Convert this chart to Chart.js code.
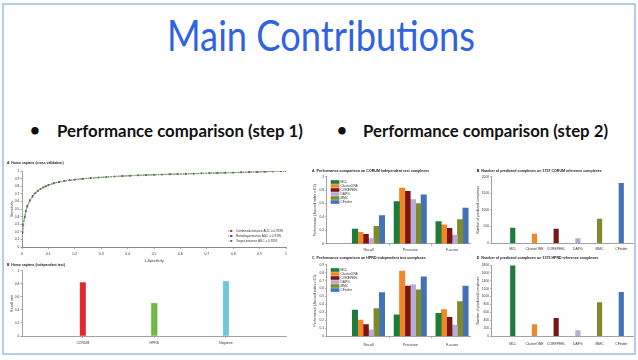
<!DOCTYPE html>
<html><head><meta charset="utf-8">
<script src="https://cdn.jsdelivr.net/npm/chart.js@4.4.1/dist/chart.umd.min.js"></script>
<style>
html,body{margin:0;padding:0;background:#fff;width:638px;height:360px;overflow:hidden;}
canvas{position:absolute;}
svg{position:absolute;left:0;top:0;}
</style></head><body>
<svg width="638" height="360">
  <rect x="3" y="4" width="632" height="350" fill="none" stroke="#b4cde8" stroke-width="2"/>
  <text x="321" y="51" text-anchor="middle" font-family="Lato" font-size="42" fill="#2f63e0" textLength="308" lengthAdjust="spacingAndGlyphs">Main Contributions</text>
  <text x="35" y="136" text-anchor="middle" font-family="Lato" font-weight="bold" font-size="17" fill="#111">•</text>
  <text x="57" y="136.5" font-family="Lato" font-weight="bold" font-size="17" fill="#111" textLength="246" lengthAdjust="spacingAndGlyphs">Performance comparison (step 1)</text>
  <text x="342" y="136" text-anchor="middle" font-family="Lato" font-weight="bold" font-size="17" fill="#111">•</text>
  <text x="363" y="136.5" font-family="Lato" font-weight="bold" font-size="17" fill="#111" textLength="245" lengthAdjust="spacingAndGlyphs">Performance comparison (step 2)</text>
</svg>
<canvas id="roc" width="288" height="105" style="left:4px;top:158px"></canvas>
<canvas id="indep" width="288" height="94" style="left:4px;top:258px"></canvas>
<canvas id="pa" width="172" height="90" style="left:300px;top:164px"></canvas>
<canvas id="pb" width="171" height="90" style="left:464px;top:164px"></canvas>
<canvas id="pc" width="172" height="100" style="left:300px;top:252px"></canvas>
<canvas id="pd" width="171" height="100" style="left:464px;top:252px"></canvas>
<script>
// ---------- data ----------
const rocFpr = [0,0.002,0.005,0.01,0.015,0.02,0.03,0.04,0.05,0.06,0.07,0.08,0.09,0.1,0.12,0.14,0.16,0.18,0.2,0.23,0.26,0.29,0.32,0.35,0.38,0.41,0.44,0.47,0.5,0.53,0.56,0.59,0.62,0.65,0.68,0.71,0.74,0.77,0.8,0.83,0.86,0.89,0.92,0.95,0.98,1.0];
const rocTprCombined = [0,0.2,0.3,0.4,0.48,0.54,0.62,0.67,0.71,0.74,0.765,0.785,0.8,0.815,0.84,0.856,0.868,0.879,0.888,0.898,0.907,0.915,0.922,0.928,0.934,0.939,0.943,0.947,0.951,0.954,0.957,0.96,0.963,0.966,0.969,0.972,0.975,0.977,0.98,0.982,0.985,0.988,0.991,0.994,0.997,1.0];
const rocTprHomolog = [0,0.19,0.3,0.39,0.47,0.54,0.61,0.67,0.705,0.74,0.763,0.784,0.8,0.814,0.838,0.855,0.867,0.878,0.887,0.897,0.906,0.914,0.921,0.928,0.933,0.938,0.943,0.947,0.95,0.954,0.957,0.96,0.963,0.966,0.969,0.971,0.974,0.977,0.979,0.982,0.985,0.988,0.991,0.994,0.997,1.0];
const rocTprTarget = [0,0.19,0.29,0.39,0.47,0.53,0.61,0.66,0.705,0.735,0.762,0.783,0.798,0.813,0.837,0.854,0.866,0.877,0.886,0.896,0.905,0.913,0.92,0.927,0.933,0.938,0.942,0.946,0.95,0.953,0.956,0.959,0.962,0.965,0.968,0.971,0.974,0.976,0.979,0.982,0.985,0.988,0.991,0.994,0.997,1.0];
const rocLabels = ['Combined-instance AUC = 0.9198','Homolog-instance AUC = 0.9195','Target-instance AUC = 0.9191'];
const rocTicks = [0,0.1,0.2,0.3,0.4,0.5,0.6,0.7,0.8,0.9,1];

const indepCategories = ['CORUM','HPRD','Negative'];
const indepRecall = [0.82,0.50,0.84];

const methods = ['MCL','ClusterONE','COREPEEL','DAPG','MMC','CFinder'];
const metrics = ['Recall','Precision','F-score'];
const corumMCL = [0.22,0.63,0.33];
const corumClusterONE = [0.17,0.83,0.28];
const corumCOREPEEL = [0.14,0.78,0.23];
const corumDAPG = [0.075,0.66,0.13];
const corumMMC = [0.26,0.60,0.36];
const corumCFinder = [0.42,0.73,0.53];
const hprdMCL = [0.33,0.27,0.29];
const hprdClusterONE = [0.205,0.82,0.335];
const hprdCOREPEEL = [0.146,0.632,0.239];
const hprdDAPG = [0.08,0.648,0.142];
const hprdMMC = [0.347,0.585,0.435];
const hprdCFinder = [0.548,0.749,0.632];
const corumCounts = [450,270,420,130,720,1800];
const hprdCounts = [1780,290,450,135,850,1110];

// ---------- styles ----------
const methodColors = ['#1e7b3c','#f0882a','#7b1416','#b5acd8','#7f8a2e','#4272b8'];
const indepColors = ['#e3262c','#6cba45','#6fc6d6'];
const AX = '#8a8a8a';
const TXT = '#333';
Chart.defaults.font.family = '"Liberation Sans", Arial, sans-serif';
Chart.defaults.color = TXT;
Chart.defaults.animation = false;
Chart.defaults.responsive = false;
Chart.defaults.plugins.legend.display = false;
Chart.defaults.plugins.tooltip.enabled = false;

const panelTitle = {
  id:'panelTitle',
  afterDraw(chart, args, o){
    const ctx = chart.ctx; ctx.save();
    ctx.font = 'bold ' + o.size + 'px "Liberation Sans", Arial, sans-serif';
    ctx.fillStyle = '#222'; ctx.textBaseline = 'middle'; ctx.textAlign = 'left';
    ctx.fillText(o.text, o.x, o.y);
    ctx.restore();
  }
};
const boxLegend = {
  id:'boxLegend',
  afterDraw(chart, args, o){
    const ctx = chart.ctx; ctx.save();
    ctx.font = o.size + 'px "Liberation Sans", Arial, sans-serif';
    ctx.textBaseline = 'middle';
    chart.data.datasets.forEach((ds,i)=>{
      const y = o.y + i*o.step;
      ctx.fillStyle = ds.backgroundColor;
      ctx.fillRect(o.x, y - o.bh/2, o.bw, o.bh);
      ctx.fillStyle = TXT;
      ctx.fillText(ds.label, o.x + o.bw + 1, y);
    });
    ctx.restore();
  }
};
const rocLegend = {
  id:'rocLegend',
  afterDraw(chart, args, o){
    const ctx = chart.ctx; ctx.save();
    ctx.font = o.size + 'px "Liberation Sans", Arial, sans-serif';
    ctx.textBaseline = 'middle';
    chart.data.datasets.slice().sort((a,b)=>a.legendIndex-b.legendIndex).forEach((ds,i)=>{
      const y = o.y + i*o.step;
      ctx.strokeStyle = ds.borderColor; ctx.lineWidth = 0.7; ctx.setLineDash([1.2,0.8]);
      ctx.beginPath(); ctx.moveTo(o.x, y); ctx.lineTo(o.x+6, y); ctx.stroke();
      ctx.setLineDash([]);
      ctx.fillStyle = ds.pointBackgroundColor;
      ctx.fillRect(o.x+2.2, y-0.9, 1.8, 1.8);
      ctx.fillStyle = TXT;
      ctx.fillText(ds.label, o.x+8, y);
    });
    ctx.restore();
  }
};

function yScale(c){
  return {
    type:'linear', position:'left', min:c.min, max:c.max, bounds:'data',
    ticks:{stepSize:c.step, font:{size:c.fs||3.6}, color:TXT, padding:1, autoSkip:false,
           callback:v=>String(Math.round(v*100)/100)},
    grid:{display:true, drawOnChartArea:false, drawTicks:true, tickLength:1.6, color:AX, lineWidth:0.7},
    border:{display:true, color:AX, width:0.8},
    title:{display:true, text:c.title, font:{size:c.tfs||3.6}, color:TXT, padding:0, align:c.align||'center'},
    afterFit:s=>{ s.width = c.width; }
  };
}
function xCat(c){
  return {
    type:'linear', position:'bottom', min:c.min, max:c.max, bounds:'data', offset:false,
    afterBuildTicks:s=>{ s.ticks = c.labels.map((_,i)=>({value:i})); },
    ticks:{autoSkip:false, maxRotation:0, minRotation:0, font:{size:c.fs||3.6}, color:TXT, padding:c.pad,
           callback:v=>c.labels[v]},
    grid:{display:c.marks, offset:!!c.boundary, drawOnChartArea:false, drawTicks:c.marks, tickLength:c.marks?2:0,
          color:(ctx)=> (c.boundary && ctx.index===0) ? 'rgba(0,0,0,0)' : AX, lineWidth:0.7},
    border:{display:true, color:AX, width:0.8},
    afterFit:s=>{ s.height = c.height; }
  };
}

// ---------- ROC (step 1, A) ----------
function rocSeries(tpr){ return rocFpr.map((x,i)=>({x:x, y:tpr[i]})); }
new Chart(document.getElementById('roc'), {
  type:'line',
  data:{datasets:[
    {label:rocLabels[0], legendIndex:0, order:2, data:rocSeries(rocTprCombined), borderColor:'#e3342f', borderWidth:0.8, borderDash:[1.5,1],
     pointStyle:'rect', pointRadius:0.8, pointBackgroundColor:'#c02020', pointBorderColor:'#c02020', pointBorderWidth:0.2, tension:0},
    {label:rocLabels[1], legendIndex:1, order:1, data:rocSeries(rocTprHomolog), borderColor:'#3a5fcd', borderWidth:0.8, borderDash:[1.5,1],
     pointStyle:'rect', pointRadius:0.8, pointBackgroundColor:'#2a3f9d', pointBorderColor:'#2a3f9d', pointBorderWidth:0.2, tension:0},
    {label:rocLabels[2], legendIndex:2, order:0, data:rocSeries(rocTprTarget), borderColor:'#7fcb66', borderWidth:1.1, borderDash:[1.8,1],
     pointStyle:'rect', pointRadius:0.8, pointBackgroundColor:'#56704e', pointBorderColor:'#56704e', pointBorderWidth:0.2, tension:0}
  ]},
  options:{
    layout:{padding:{left:5.8, top:13, right:6, bottom:0}},
    scales:{
      x:{type:'linear', min:0, max:1, bounds:'data',
         afterBuildTicks:s=>{ s.ticks = rocTicks.map(v=>({value:v})); },
         ticks:{font:{size:3.4}, color:TXT, padding:3, autoSkip:false, maxRotation:0, callback:v=>String(Math.round(v*100)/100)},
         grid:{display:true, drawOnChartArea:false, drawTicks:true, tickLength:2, color:AX, lineWidth:0.7},
         border:{display:true, color:AX, width:1},
         title:{display:true, text:'1-Specificity', font:{size:3.6}, color:TXT, padding:0},
         afterFit:s=>{ s.height = 16; }},
      y:Object.assign(yScale({min:0, max:1, step:0.1, title:'Sensitivity', width:12.2, fs:3.3}), {
         afterBuildTicks:s=>{ s.ticks = rocTicks.map(v=>({value:v})); }})
    },
    plugins:{
      panelTitle:{text:'A  Homo sapiens (cross validation)', x:3, y:5, size:3.4},
      rocLegend:{x:224, y:73, step:5, size:3.1}
    }
  },
  plugins:[panelTitle, rocLegend]
});

// ---------- independent test (step 1, B) ----------
new Chart(document.getElementById('indep'), {
  type:'bar',
  data:{datasets:[{label:'Recall rate', data:indepCategories.map((c,i)=>({x:i, y:indepRecall[i]})),
    backgroundColor:indepColors, borderColor:['#f07a80','#8fd070','#9adbe6'], borderWidth:0.6, barThickness:6}]},
  options:{
    layout:{padding:{left:5.8, top:12.7, right:6, bottom:0}},
    scales:{
      x:xCat({min:-0.85, max:2.84, labels:indepCategories, pad:3.5, marks:true, boundary:false, height:16, fs:3.4}),
      y:yScale({min:0, max:1, step:0.2, title:'Recall rate', width:12.2, fs:3.3})
    },
    plugins:{panelTitle:{text:'B  Homo sapiens (independent test)', x:3, y:7, size:3.4}}
  },
  plugins:[panelTitle]
});

// ---------- grouped performance (step 2, A and C) ----------
function perfDatasets(arrs){
  return methods.map((m,k)=>({label:m, data:metrics.map((_,j)=>({x:j, y:arrs[k][j]})),
    backgroundColor:methodColors[k], borderWidth:0, barThickness:5.4}));
}
function perfChart(id, arrs, ymax, ystep, xh, xpad, title, ty, legY){
  new Chart(document.getElementById(id), {
    type:'bar',
    data:{datasets:perfDatasets(arrs)},
    options:{
      layout:{padding:{left:12.6, top:12.7, right:2, bottom:0}},
      scales:{
        x:xCat({min:-1.0, max:2.43, labels:metrics, pad:xpad, marks:true, boundary:true, height:xh, fs:3.6}),
        y:yScale({min:0, max:ymax, step:ystep, title:'Performance (Jaccard index ≥ 0.5)', width:14.1, fs:3.3, tfs:3.4})
      },
      plugins:{
        panelTitle:{text:title, x:12, y:ty, size:3.6},
        boxLegend:{x:30.7, y:legY, step:4, bw:8.7, bh:3.6, size:3.3}
      }
    },
    plugins:[panelTitle, boxLegend]
  });
}
perfChart('pa', [corumMCL,corumClusterONE,corumCOREPEEL,corumDAPG,corumMMC,corumCFinder], 1, 0.2, 10.3, 1.8,
  'A  Performance comparison on CORUM independent test complexes', 7, 18);
perfChart('pc', [hprdMCL,hprdClusterONE,hprdCOREPEEL,hprdDAPG,hprdMMC,hprdCFinder], 0.9, 0.1, 15.7, 4.2,
  'C  Performance comparison on HPRD independent test complexes', 5.7, 18);

// ---------- counts (step 2, B and D) ----------
function countChart(id, counts, ymax, ystep, top, xh, xpad, title, ty){
  new Chart(document.getElementById(id), {
    type:'bar',
    data:{datasets:[{label:'Number of predicted complexes', data:methods.map((m,i)=>({x:i, y:counts[i]})),
      backgroundColor:methodColors, borderWidth:0, barThickness:4.5}]},
    options:{
      layout:{padding:{left:11.9, top:top, right:2, bottom:0}},
      scales:{
        x:xCat({min:-0.97, max:5.54, labels:methods, pad:xpad, marks:false, boundary:false, height:xh, fs:3.4}),
        y:yScale({min:0, max:ymax, step:ystep, title:'Number of predicted complexes', width:15.8, fs:3.3, tfs:3.4})
      },
      plugins:{panelTitle:{text:title, x:12.7, y:ty, size:3.6}}
    },
    plugins:[panelTitle]
  });
}
countChart('pb', corumCounts, 2000, 500, 12.7, 11, 4.5,
  'B  Number of predicted complexes on 1757 CORUM reference complexes', 7);
countChart('pd', hprdCounts, 1800, 200, 13, 16, 6.5,
  'D  Number of predicted complexes on 1375 HPRD reference complexes', 5.7);
</script>
</body></html>
